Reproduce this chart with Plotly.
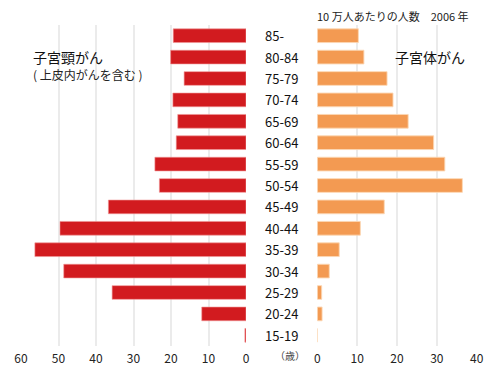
import plotly.graph_objects as go

ages = ["15-19", "20-24", "25-29", "30-34", "35-39", "40-44", "45-49",
        "50-54", "55-59", "60-64", "65-69", "70-74", "75-79", "80-84", "85-"]
cervical = [0.3, 11.8, 35.7, 48.6, 56.3, 49.6, 36.7, 23.1, 24.3, 18.6, 18.2, 19.5, 16.5, 20.1, 19.4]
corpus = [0.0, 1.2, 1.1, 3.0, 5.5, 10.8, 16.8, 36.4, 32.0, 29.2, 22.8, 19.0, 17.5, 11.7, 10.3]
left_ticks = [60, 50, 40, 30, 20, 10, 0]
right_ticks = [0, 10, 20, 30, 40]

# page has an 8px body margin; keep the figure inside the 494x374 window
OFF = 8
W, H = 494 - 2 * OFF, 374 - 2 * OFF
FONT = "Noto Sans CJK JP"
RED = "#D21B1F"
ORANGE = "#F39A52"
GRID = "#ebebeb"


def px(x):
    return (x - OFF) / W


def py(y):
    return (H - (y - OFF)) / H


fig = go.Figure()
fig.add_trace(go.Bar(y=ages, x=cervical, orientation="h", xaxis="x", yaxis="y",
                     marker=dict(color=RED, line=dict(color="rgba(240,150,150,0.6)", width=1)),
                     width=0.64, showlegend=False))
fig.add_trace(go.Bar(y=ages, x=corpus, orientation="h", xaxis="x2", yaxis="y",
                     marker=dict(color=ORANGE, line=dict(color="rgba(252,215,180,0.9)", width=1)),
                     width=0.64, showlegend=False))

axis_common = dict(showgrid=True, gridcolor=GRID, gridwidth=2, zeroline=False,
                   showline=False, ticks="outside", ticklen=2, automargin=False,
                   tickcolor="rgba(0,0,0,0)", tickfont=dict(size=12, color="#222"),
                   anchor="y", fixedrange=True)

fig.update_layout(
    width=W, height=H,
    margin=dict(l=0, r=0, t=0, b=0, autoexpand=False),
    paper_bgcolor="white", plot_bgcolor="white",
    font=dict(family=FONT, color="#222", size=12),
    xaxis=dict(domain=[px(21), px(246)], range=[60, 0], tickvals=left_ticks, **axis_common),
    xaxis2=dict(domain=[px(317.3), px(476.7)], range=[0, 40], tickvals=right_ticks, **axis_common),
    yaxis=dict(domain=[py(346), py(25)], categoryorder="array", categoryarray=ages,
               range=[-0.5, len(ages) - 0.5], showticklabels=False, automargin=False,
               showgrid=False, zeroline=False, showline=False, fixedrange=True),
)

# age labels in the center column
for a in ages:
    fig.add_annotation(x=px(263), xref="paper", y=a, yref="y", text=a,
                       showarrow=False, xanchor="left",
                       font=dict(size=13, color="#111", family=FONT))

fig.add_annotation(x=px(290), xref="paper", y=py(355), yref="paper",
                   text="（歳）", showarrow=False, xanchor="center", yanchor="middle",
                   font=dict(size=10, color="#444", family=FONT))

fig.add_annotation(x=px(471), xref="paper", y=py(16.5), yref="paper",
                   text="10 万人あたりの人数　2006 年", showarrow=False,
                   xanchor="right", yanchor="middle",
                   font=dict(size=11, color="#222", family=FONT))

fig.add_annotation(x=px(31), xref="paper", y=py(57), yref="paper",
                   text="子宮頸がん", showarrow=False, xanchor="left", yanchor="middle",
                   font=dict(size=14, color="#111", family=FONT))
fig.add_annotation(x=px(31), xref="paper", y=py(74.5), yref="paper",
                   text="( 上皮内がんを含む )", showarrow=False, xanchor="left",
                   yanchor="middle", font=dict(size=12, color="#222", family=FONT))
fig.add_annotation(x=px(393), xref="paper", y=py(57), yref="paper",
                   text="子宮体がん", showarrow=False, xanchor="left", yanchor="middle",
                   font=dict(size=14, color="#111", family=FONT))

fig.write_html("out.html")
